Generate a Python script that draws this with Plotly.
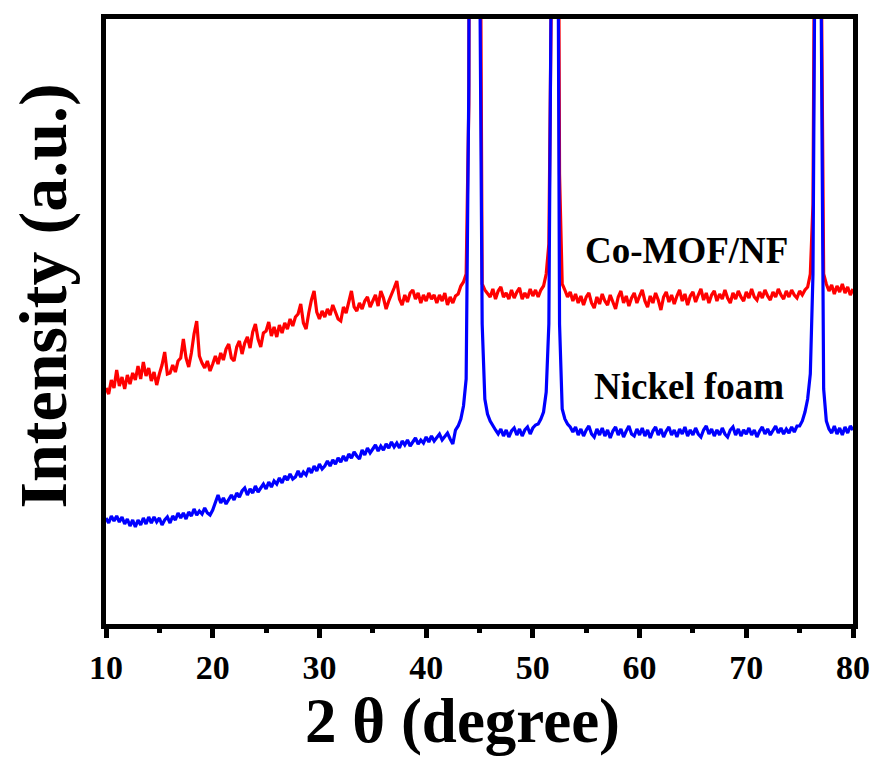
import numpy as np
import plotly.graph_objects as go

# 2-theta grid: 10 to 80 degrees, 0.25 degree step (281 points)
two_theta = np.linspace(10, 80, 281)

# Co-MOF/NF intensity (a.u.), four values per degree
co_mof_nf = [
    236, 230, 244, 236,  # 10
    254, 238, 247, 235,  # 11
    249, 240, 251, 244,  # 12
    258, 245, 262, 248,  # 13
    256, 243, 252, 239,  # 14
    250, 259, 272, 250,  # 15
    251, 259, 252, 263,  # 16
    266, 285, 266, 257,  # 17
    271, 290, 303, 268,  # 18
    261, 256, 263, 253,  # 19
    260, 268, 260, 271,  # 20
    264, 275, 280, 266,  # 21
    263, 277, 283, 270,  # 22
    281, 287, 276, 292,  # 23
    300, 285, 277, 291,  # 24
    293, 302, 288, 297,  # 25
    287, 299, 291, 301,  # 26
    295, 305, 298, 307,  # 27
    310, 320, 301, 295,  # 28
    311, 324, 333, 312,  # 29
    305, 313, 307, 315,  # 30
    309, 319, 312, 305,  # 31
    303, 317, 311, 323,  # 32
    333, 317, 313, 321,  # 33
    315, 323, 327, 317,  # 34
    323, 329, 318, 333,  # 35
    326, 315, 323, 329,  # 36
    336, 343, 325, 319,  # 37
    329, 322, 331, 334,  # 38
    325, 331, 321, 329,  # 39
    323, 331, 325, 329,  # 40
    321, 329, 323, 331,  # 41
    319, 327, 321, 328,  # 42
    330, 338, 342, 350,  # 43
    520, 1900, 4000, 3200,  # 44
    900, 340, 334, 331,  # 45
    327, 335, 325, 333,  # 46
    337, 327, 331, 325,  # 47
    334, 326, 332, 336,  # 48
    325, 331, 326, 335,  # 49
    328, 334, 327, 334,  # 50
    338, 350, 380, 650,  # 51
    3000, 1200, 450, 340,  # 52
    334, 327, 332, 323,  # 53
    330, 321, 328, 319,  # 54
    327, 331, 321, 316,  # 55
    327, 320, 330, 323,  # 56
    319, 329, 322, 315,  # 57
    327, 333, 321, 328,  # 58
    318, 326, 331, 321,  # 59
    328, 334, 323, 317,  # 60
    328, 321, 331, 324,  # 61
    314, 327, 332, 322,  # 62
    329, 320, 328, 334,  # 63
    323, 330, 319, 328,  # 64
    332, 322, 329, 335,  # 65
    324, 331, 321, 329,  # 66
    333, 323, 330, 325,  # 67
    334, 326, 321, 331,  # 68
    325, 333, 327, 323,  # 69
    332, 326, 335, 327,  # 70
    324, 332, 326, 334,  # 71
    328, 324, 332, 327,  # 72
    335, 329, 325, 333,  # 73
    327, 334, 329, 326,  # 74
    333, 329, 334, 337,  # 75
    350, 420, 900, 2500,  # 76
    700, 350, 340, 333,  # 77
    339, 330, 338, 332,  # 78
    340, 331, 337, 329,  # 79
    335,                 # 80
]

# Nickel foam intensity (a.u.), four values per degree
nickel_foam = [
    106, 101, 108, 103,  # 10
    108, 102, 107, 100,  # 11
    105, 98, 104, 97,    # 12
    104, 99, 106, 100,   # 13
    107, 101, 107, 102,  # 14
    106, 99, 104, 107,   # 15
    101, 108, 104, 111,  # 16
    106, 111, 105, 112,  # 17
    108, 115, 109, 113,  # 18
    110, 116, 111, 109,  # 19
    114, 122, 129, 121,  # 20
    126, 120, 125, 129,  # 21
    124, 131, 127, 133,  # 22
    136, 129, 135, 131,  # 23
    138, 132, 136, 140,  # 24
    135, 142, 137, 143,  # 25
    140, 146, 141, 148,  # 26
    144, 150, 145, 147,  # 27
    153, 147, 152, 149,  # 28
    156, 151, 158, 153,  # 29
    160, 155, 158, 163,  # 30
    158, 164, 160, 166,  # 31
    162, 168, 163, 170,  # 32
    166, 172, 168, 165,  # 33
    174, 169, 176, 171,  # 34
    175, 179, 173, 178,  # 35
    174, 180, 176, 182,  # 36
    177, 181, 176, 183,  # 37
    179, 184, 178, 182,  # 38
    186, 180, 184, 181,  # 39
    187, 182, 188, 183,  # 40
    186, 190, 184, 188,  # 41
    191, 185, 180, 194,  # 42
    198, 205, 218, 245,  # 43
    540, 2000, 4000, 3000,  # 44
    700, 300, 225, 210,  # 45
    203, 198, 194, 190,  # 46
    195, 188, 194, 187,  # 47
    193, 196, 189, 195,  # 48
    188, 194, 197, 190,  # 49
    196, 199, 200, 205,  # 50
    212, 232, 300, 700,  # 51
    3000, 1000, 300, 215,  # 52
    205, 200, 197, 192,  # 53
    197, 189, 195, 188,  # 54
    194, 198, 190, 187,  # 55
    195, 189, 196, 188,  # 56
    194, 186, 193, 197,  # 57
    189, 195, 187, 193,  # 58
    198, 190, 188, 195,  # 59
    189, 196, 188, 194,  # 60
    186, 193, 197, 189,  # 61
    195, 187, 193, 197,  # 62
    189, 194, 187, 195,  # 63
    190, 197, 188, 194,  # 64
    189, 196, 190, 187,  # 65
    194, 198, 190, 195,  # 66
    188, 194, 189, 196,  # 67
    190, 187, 194, 197,  # 68
    189, 195, 188, 194,  # 69
    190, 196, 189, 194,  # 70
    187, 193, 197, 190,  # 71
    195, 189, 194, 198,  # 72
    191, 196, 190, 195,  # 73
    191, 197, 192, 198,  # 74
    198, 203, 212, 225,  # 75
    250, 350, 800, 2500,  # 76
    650, 235, 203, 195,  # 77
    191, 198, 190, 196,  # 78
    189, 197, 191, 198,  # 79
    194,                 # 80
]

x_ticks = [10, 20, 30, 40, 50, 60, 70, 80]
labels = ["Co-MOF/NF", "Nickel foam"]

assert len(co_mof_nf) == len(two_theta) == len(nickel_foam)

W, H = 882, 757
L, R, T, B = 106, 24, 19, 133
PW, PH = W - L - R, H - T - B

def px(xp):
    return (xp - L) / PW

def py(yp):
    return (H - B - yp) / PH

FONT = "Liberation Serif, Times New Roman, serif"

fig = go.Figure()
fig.add_trace(go.Scatter(x=two_theta, y=co_mof_nf, mode="lines",
                         line=dict(color="#ff0000", width=3.2), name=labels[0]))
fig.add_trace(go.Scatter(x=two_theta, y=nickel_foam, mode="lines",
                         line=dict(color="#0000ff", width=3.2), name=labels[1]))

fig.update_layout(
    width=W, height=H,
    margin=dict(l=L, r=R, t=T, b=B, pad=0),
    paper_bgcolor="white", plot_bgcolor="white",
    showlegend=False,
    font=dict(family=FONT, color="black"),
)
fig.update_xaxes(
    range=[10, 80], tickvals=x_ticks,
    showline=True, linewidth=5, linecolor="black", mirror=True,
    ticks="outside", ticklen=9, tickwidth=5, tickcolor="black",
    minor=dict(dtick=5, tick0=5, ticks="outside", ticklen=4, tickwidth=5, tickcolor="black"),
    tickfont=dict(size=34, family=FONT, weight="bold", color="black"),
    showgrid=False, zeroline=False,
)
fig.update_yaxes(
    range=[0, 605],
    showline=True, linewidth=5, linecolor="black", mirror=True,
    ticks="", showticklabels=False, showgrid=False, zeroline=False,
)

# axis titles
fig.add_annotation(text="2 θ (degree)", xref="paper", yref="paper",
                   x=px(465), y=py(721), showarrow=False,
                   font=dict(size=63, family=FONT, weight="bold"),
                   xanchor="center", yanchor="middle")
fig.add_annotation(text="Intensity (a.u.)", xref="paper", yref="paper",
                   x=px(43), y=py(296), showarrow=False, textangle=-90,
                   font=dict(size=68, family=FONT, weight="bold"),
                   xanchor="center", yanchor="middle")

# series labels
fig.add_annotation(text=labels[0], xref="paper", yref="paper",
                   x=px(690), y=py(250), showarrow=False,
                   font=dict(size=37, family=FONT, weight="bold"),
                   xanchor="center", yanchor="middle")
fig.add_annotation(text=labels[1], xref="paper", yref="paper",
                   x=px(693), y=py(386), showarrow=False,
                   font=dict(size=37, family=FONT, weight="bold"),
                   xanchor="center", yanchor="middle")

fig.write_html("out.html")
